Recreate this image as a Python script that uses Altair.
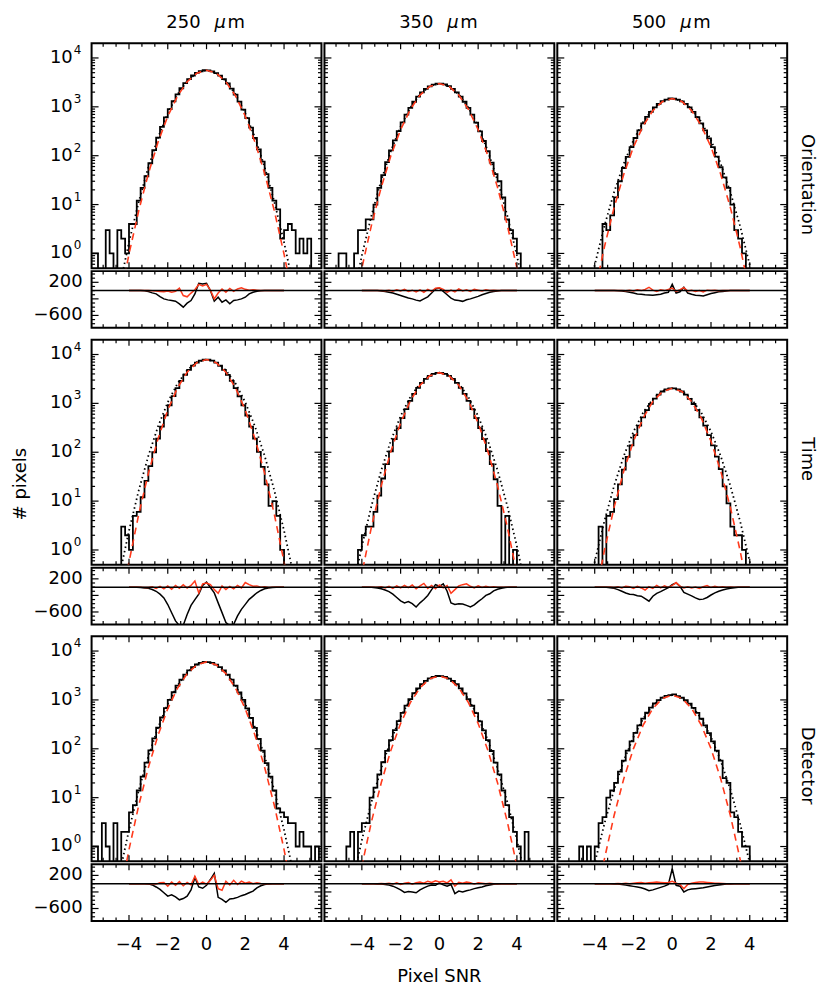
import altair as alt
import pandas as pd

FONT = "DejaVu Sans"
RED = "#ff3a1c"
W, HM, HR = 231, 226, 57

BANDS = ["250", "350", "500"]
ROWS = ["Orientation", "Time", "Detector"]
ROW_LABEL_Y = [142, 120, 130]

# bin centres of the 0.2-wide histogram bins (Pixel SNR)
HIST_X = [round(-5.9 + 0.2 * i, 1) for i in range(60)]
CURVE_X = [-5.0, -4.5, -4.0, -3.5, -3.0, -2.5, -2.0, -1.5, -1.0, -0.5, 0.0,
           0.5, 1.0, 1.5, 2.0, 2.5, 3.0, 3.5, 4.0, 4.5, 5.0]
RES_X = [round(-4.0 + 0.2 * i, 1) for i in range(41)]

X_MAJOR = [-4, -2, 0, 2, 4]
X_MINOR = [-5.333, -4.667, -3.333, -2.667, -1.333, -0.667, 0.667, 1.333, 2.667, 3.333, 4.667, 5.333]
X_LABELS = ["−4", "−2", "0", "2", "4"]
Y_MAJOR = [1, 10, 100, 1000, 10000]
Y_EXP = ["0", "1", "2", "3", "4"]
Y_MINOR = [0.6, 0.7, 0.8, 0.9, 2, 3, 4, 5, 6, 7, 8, 9, 20, 30, 40, 50, 60, 70, 80, 90,
           200, 300, 400, 500, 600, 700, 800, 900, 2000, 3000, 4000, 5000, 6000, 7000, 8000, 9000]
R_MAJOR = [200, -200, -600]
R_MINOR = [400, 300, 100, 0, -100, -300, -400, -500, -700, -800]
R_LABEL_V = [200, -600]
R_LABEL_T = ["200", "−600"]

# ---------------- histograms (counts per bin) ----------------
H_OR_250 = [1, 1, 0, 0, 3, 1, 0, 3, 2, 1, 4, 4, 12, 22, 38, 70, 130, 235, 390, 610,
            900, 1300, 1800, 2400, 3050, 3700, 4380, 4950, 5350, 5600,
            5580, 5330, 4900, 4350, 3700, 3000, 2350, 1780, 1280, 880, 590, 375, 230, 135, 76, 42, 22, 12, 8, 2,
            3, 4, 3, 1, 2, 1, 2, 0, 0, 0]
H_OR_350 = [0, 0, 0, 0, 1, 1, 0, 0, 1, 3, 3, 5, 5, 10, 22, 40, 74, 128, 205, 318,
            480, 690, 955, 1270, 1620, 1985, 2335, 2630, 2860, 2980,
            2990, 2870, 2640, 2330, 1980, 1610, 1270, 950, 690, 475, 315, 200, 124, 72, 42, 30, 14, 5, 3, 2,
            1, 0, 0, 0, 0, 0, 0, 0, 0, 0]
H_OR_500 = [0, 0, 0, 0, 0, 0, 0, 0, 0, 0, 0, 0, 4, 3, 6, 14, 30, 56, 95, 150,
            230, 330, 460, 620, 790, 975, 1150, 1300, 1410, 1480,
            1465, 1410, 1295, 1145, 970, 785, 615, 460, 330, 226, 150, 96, 58, 36, 22, 10, 3, 2, 1, 0,
            0, 0, 0, 0, 0, 0, 0, 0, 0, 0]
H_TI_250 = [0, 0, 0, 0, 0, 0, 0, 0, 3, 2, 1, 5, 6, 12, 26, 52, 100, 190, 335, 570,
            915, 1410, 2060, 2880, 3850, 4870, 5900, 6800, 7500, 7880,
            7850, 7500, 6800, 5890, 4860, 3840, 2880, 2060, 1400, 915, 565, 335, 190, 102, 50, 22, 8, 10, 5, 1,
            0, 0, 0, 0, 0, 0, 0, 0, 0, 0]
H_TI_350 = [0, 0, 0, 0, 0, 0, 0, 0, 0, 1, 2, 3, 3, 6, 13, 29, 57, 104, 185, 312,
            500, 765, 1120, 1560, 2070, 2630, 3170, 3660, 4030, 4220,
            4210, 4020, 3650, 3170, 2620, 2070, 1560, 1120, 760, 500, 310, 185, 105, 57, 28, 8, 0, 5, 0, 1,
            0, 0, 0, 0, 0, 0, 0, 0, 0, 0]
H_TI_500 = [0, 0, 0, 0, 0, 0, 0, 0, 0, 0, 0, 3, 0, 5, 6, 11, 22, 44, 80, 138,
            225, 350, 517, 728, 975, 1245, 1510, 1750, 1930, 2030,
            2025, 1925, 1750, 1510, 1240, 970, 725, 515, 350, 225, 138, 81, 45, 20, 9, 3, 2, 2, 1, 0,
            0, 0, 0, 0, 0, 0, 0, 0, 0, 0]
H_DE_250 = [1, 1, 0, 3, 1, 0, 3, 0, 2, 2, 5, 7, 14, 27, 52, 93, 163, 272, 437, 676,
            1005, 1435, 1970, 2600, 3295, 4015, 4710, 5300, 5740, 5970,
            5960, 5730, 5290, 4700, 4000, 3280, 2590, 1960, 1430, 1000, 670, 430, 268, 160, 92, 51, 27, 14, 6, 5,
            4, 3, 3, 1, 2, 1, 1, 0, 1, 0]
H_DE_350 = [0, 0, 0, 0, 0, 0, 1, 2, 0, 2, 3, 3, 10, 16, 30, 53, 91, 151, 240, 367,
            541, 765, 1042, 1370, 1725, 2095, 2445, 2750, 2965, 3085,
            3080, 2960, 2740, 2440, 2090, 1720, 1365, 1040, 760, 538, 365, 238, 150, 90, 52, 30, 14, 7, 4, 2,
            1, 0, 2, 0, 0, 0, 0, 0, 0, 0]
H_DE_500 = [0, 0, 0, 0, 0, 0, 1, 0, 1, 0, 1, 3, 4, 10, 14, 20, 34, 57, 92, 142,
            211, 301, 413, 546, 692, 844, 988, 1112, 1205, 1253,
            1300, 1200, 1108, 985, 840, 690, 545, 412, 300, 210, 142, 92, 57, 25, 20, 5, 4, 2, 1, 1,
            0, 0, 0, 0, 0, 0, 0, 0, 0, 0]

# ---------------- fitted curves (dotted black, dashed red) ----------------
D_OR_250 = [0.018, 0.196, 1.69, 11.3, 58.6, 236, 738, 1790, 3370, 4930, 5600,
            4930, 3370, 1790, 738, 236, 58.6, 11.3, 1.69, 0.196, 0.018]
R_OR_250 = [0.0075, 0.098, 0.97, 7.4, 43, 190, 643, 1656, 3258, 4887, 5600,
            4887, 3258, 1656, 643, 190, 43, 7.4, 0.97, 0.098, 0.0075]
D_OR_350 = [0.0095, 0.105, 0.906, 6.05, 31.4, 126, 395, 959, 1807, 2642, 3000,
            2642, 1807, 959, 395, 126, 31.4, 6.05, 0.906, 0.105, 0.0095]
R_OR_350 = [0.0038, 0.05, 0.502, 3.85, 22.5, 100.5, 341, 883, 1742, 2618, 3000,
            2618, 1742, 883, 341, 100.5, 22.5, 3.85, 0.502, 0.05, 0.0038]
D_OR_500 = [0.007, 0.072, 0.578, 3.64, 17.9, 69, 208, 491, 906, 1309, 1480,
            1309, 906, 491, 208, 69, 17.9, 3.64, 0.578, 0.072, 0.007]
R_OR_500 = [0.00093, 0.0141, 0.159, 1.355, 8.67, 41.7, 151, 409, 836, 1282, 1480,
            1282, 836, 409, 151, 41.7, 8.67, 1.355, 0.159, 0.0141, 0.00093]
D_TI_250 = [0.0265, 0.29, 2.48, 16.4, 84.5, 338, 1052, 2541, 4775, 6970, 7900,
            6970, 4775, 2541, 1052, 338, 84.5, 16.4, 2.48, 0.29, 0.0265]
R_TI_250 = [0.0027, 0.045, 0.568, 5.31, 36.9, 190, 728, 2065, 4355, 6810, 7900,
            6810, 4355, 2065, 728, 190, 36.9, 5.31, 0.568, 0.045, 0.0027]
D_TI_350 = [0.012, 0.136, 1.19, 8.1, 42.7, 174, 550, 1345, 2547, 3737, 4250,
            3737, 2547, 1345, 550, 174, 42.7, 8.1, 1.19, 0.136, 0.012]
R_TI_350 = [0.0016, 0.0265, 0.328, 3.02, 20.7, 105, 398, 1122, 2350, 3664, 4250,
            3664, 2350, 1122, 398, 105, 20.7, 3.02, 0.328, 0.0265, 0.0016]
D_TI_500 = [0.00575, 0.0652, 0.573, 3.9, 20.5, 83.7, 264, 646, 1225, 1797, 2040,
            1797, 1225, 646, 264, 83.7, 20.5, 3.9, 0.573, 0.0652, 0.00575]
R_TI_500 = [0.00034, 0.0066, 0.094, 0.977, 7.43, 41.3, 168, 501, 1094, 1746, 2040,
            1746, 1094, 501, 168, 41.3, 7.43, 0.977, 0.094, 0.0066, 0.00034]
D_DE_250 = [0.0253, 0.265, 2.18, 13.9, 69.7, 272, 828, 1968, 3656, 5297, 6000,
            5297, 3656, 1968, 828, 272, 69.7, 13.9, 2.18, 0.265, 0.0253]
R_DE_250 = [0.006, 0.0828, 0.867, 6.89, 41.5, 190, 658, 1730, 3451, 5224, 6000,
            5224, 3451, 1730, 658, 190, 41.5, 6.89, 0.867, 0.0828, 0.006]
D_DE_350 = [0.0174, 0.173, 1.35, 8.29, 39.9, 151, 448, 1043, 1910, 2745, 3100,
            2745, 1910, 1043, 448, 151, 39.9, 8.29, 1.35, 0.173, 0.0174]
R_DE_350 = [0.0026, 0.0372, 0.401, 3.27, 20.1, 93.8, 330, 879, 1770, 2692, 3100,
            2692, 1770, 879, 330, 93.8, 20.1, 3.27, 0.401, 0.0372, 0.0026]
D_DE_500 = [0.0053, 0.0557, 0.457, 2.92, 14.6, 57, 174, 413, 767, 1112, 1260,
            1112, 767, 413, 174, 57, 14.6, 2.92, 0.457, 0.0557, 0.0053]
R_DE_500 = [0.00018, 0.0036, 0.052, 0.554, 4.31, 24.4, 101, 304, 670, 1076, 1260,
            1076, 670, 304, 101, 24.4, 4.31, 0.554, 0.052, 0.0036, 0.00018]

# ---------------- residuals (black and red) ----------------
RK_OR_250 = [0, 0, 0, 0, -5, -24, -56, -80, -144, -200, -224, -240, -256, -320, -400, -304, -240, -80, 176, 160,
             176, 0, -256, -160, -280, -224, -320, -240, -224, -200, -160, -80, -40, -16, -5, 0, 0, 0, 0, 0, 0]
RR_OR_250 = [0, 0, 0, 0, 0, 0, -5, -8, -20, -30, -10, -40, -20, 60, -120, -150, -60, 20, 150, 110,
             150, 10, -200, -60, 40, -40, 50, -20, 40, 70, 30, 10, 20, 10, 0, 0, 0, 0, 0, 0, 0]
RK_OR_350 = [0, 0, 0, 0, 0, -10, -20, -40, -60, -90, -120, -150, -180, -200, -230, -250, -200, -150, -60, 40,
             60, -20, -100, -180, -230, -240, -260, -220, -200, -170, -140, -100, -70, -40, -20, -10, 0, 0, 0, 0, 0]
RR_OR_350 = [0, 0, 0, 0, 0, 0, -5, 10, -15, 20, -10, 30, -20, 10, -30, 20, -40, 30, -20, 60,
             70, 30, -40, 10, -30, 40, -10, 20, -20, 30, 10, -10, 20, 0, 10, 0, 0, 0, 0, 0, 0]
RK_OR_500 = [0, 0, 0, 0, 0, 0, -5, -10, -25, -40, -60, -80, -90, -100, -105, -110, -100, -90, -60, -40,
             150, -60, -30, 80, -60, -90, -110, -120, -130, -100, -70, -50, -30, -20, -10, 0, 0, 0, 0, 0, 0]
RR_OR_500 = [0, 0, 0, 0, 0, 0, 0, 5, -5, 10, -10, 20, 0, 30, 80, 10, -20, 20, 0, 30,
             60, -20, 20, 70, -10, 10, -20, 0, -30, 10, 0, 10, -5, 5, 0, 0, 0, 0, 0, 0, 0]
RK_TI_250 = [0, 0, -5, -10, -20, -30, -56, -100, -170, -260, -420, -620, -816, -930, -920, -660, -440, -300, -170, 40,
             120, -10, -140, -380, -616, -856, -930, -900, -696, -536, -416, -296, -216, -136, -80, -40, -20, -10, -5, 0, 0]
RR_TI_250 = [0, 0, 0, 0, -10, -10, 10, -30, 20, -40, 30, -50, 40, -30, 60, -20, 40, 150, -140, 80,
             100, 60, -60, -150, 30, -60, 20, -40, 40, -20, 110, 60, 20, 30, 0, 10, -10, 0, 0, 0, 0]
RK_TI_350 = [0, 0, 0, -10, -20, -40, -70, -110, -170, -250, -330, -380, -350, -400, -480, -380, -300, -200, -60, 60,
             20, 80, -100, -380, -420, -400, -410, -440, -480, -430, -350, -280, -200, -160, -90, -50, -25, -10, 0, 0, 0]
RR_TI_350 = [0, 0, 0, 0, -5, 10, -20, 20, -30, 30, -20, 40, -10, 50, -40, 30, 90, -30, 40, -40,
             50, -20, 40, -150, -60, 30, 60, 80, 20, -20, 30, -10, 20, 0, 10, 0, 0, 0, 0, 0, 0]
RK_TI_500 = [0, 0, 0, -5, -15, -30, -60, -100, -140, -170, -180, -210, -220, -280, -340, -220, -150, -110, -60, -10,
             60, 100, 20, -130, -170, -210, -260, -300, -290, -250, -190, -140, -100, -70, -45, -30, -15, -5, 0, 0, 0]
RR_TI_500 = [0, 0, 0, 0, 5, -10, 10, -20, 20, 10, -30, 20, -20, -70, 10, -30, 40, -20, 30, -10,
             40, 110, 20, -20, 10, -20, 0, -30, 10, 40, -10, 20, 0, 10, 0, 5, 0, 0, 0, 0, 0]
RK_DE_250 = [0, 0, 0, 0, 0, -5, -30, -80, -140, -220, -300, -270, -320, -390, -360, -300, -150, 150, -80, -110,
             -40, 100, 250, -330, -380, -450, -370, -360, -330, -290, -260, -220, -180, -100, -50, -20, -5, 0, 0, 0, 0]
RR_DE_250 = [0, 0, 0, 0, 0, 0, -5, -10, 20, 30, -60, 40, -40, 50, -50, 30, -30, 180, -20, 40,
             -10, 80, 200, -120, -160, 60, -30, 80, -20, 60, 10, 40, 0, 20, 5, 0, 0, 0, 0, 0, 0]
RK_DE_350 = [0, 0, 0, 0, -5, -10, -20, -35, -60, -100, -150, -210, -190, -200, -220, -150, -100, -60, -30, -40,
             20, -30, -60, -20, -240, -180, -200, -170, -150, -120, -100, -80, -50, -30, -15, -5, 0, 0, 0, 0, 0]
RR_DE_350 = [0, 0, 0, 0, 0, 5, 0, 10, -10, 20, -20, 10, 30, -10, 20, 40, 10, 60, 30, 70,
             40, 60, 20, 90, -60, 30, 10, 40, 20, -10, 20, 10, 0, 10, 0, 0, 0, 0, 0, 0, 0]
RK_DE_500 = [0, 0, 0, 0, 0, -5, -10, -20, -35, -50, -65, -80, -100, -130, -170, -150, -120, -90, -60, -20,
             360, -40, -60, -200, -150, -130, -120, -110, -100, -80, -60, -45, -30, -20, -10, -5, 0, 0, 0, 0, 0]
RR_DE_500 = [0, 0, 0, 0, 0, 0, 5, 0, 10, 0, 10, 20, 30, 10, 20, 30, 40, 30, 20, 30,
             60, 10, -20, -120, -20, 10, 30, 40, 40, 30, 20, 10, 10, 5, 0, 0, 0, 0, 0, 0, 0]

HIST = [[H_OR_250, H_OR_350, H_OR_500], [H_TI_250, H_TI_350, H_TI_500], [H_DE_250, H_DE_350, H_DE_500]]
DOTC = [[D_OR_250, D_OR_350, D_OR_500], [D_TI_250, D_TI_350, D_TI_500], [D_DE_250, D_DE_350, D_DE_500]]
REDC = [[R_OR_250, R_OR_350, R_OR_500], [R_TI_250, R_TI_350, R_TI_500], [R_DE_250, R_DE_350, R_DE_500]]
RESK = [[RK_OR_250, RK_OR_350, RK_OR_500], [RK_TI_250, RK_TI_350, RK_TI_500], [RK_DE_250, RK_DE_350, RK_DE_500]]
RESR = [[RR_OR_250, RR_OR_350, RR_OR_500], [RR_TI_250, RR_TI_350, RR_TI_500], [RR_DE_250, RR_DE_350, RR_DE_500]]

xs = alt.Scale(domain=[-5.93, 5.93], nice=False, zero=False)
ys = alt.Scale(type="log", domain=[0.5, 20000], nice=False)
rs = alt.Scale(domain=[-900, 470], nice=False, zero=False)


def xq(field):
    return alt.X(f"{field}:Q", scale=xs, axis=None)


def xticks(h):
    out = []
    for vals, L in ((X_MAJOR, 6), (X_MINOR, 3.5)):
        base = alt.Chart(pd.DataFrame({"v": vals})).mark_rule(color="black", strokeWidth=1.2).encode(x=xq("v"))
        out.append(base.encode(y=alt.value(0), y2=alt.value(L)))
        out.append(base.encode(y=alt.value(h), y2=alt.value(h - L)))
    return out


def yticks(scale, major, minor):
    out = []
    for vals, L in ((major, 7), (minor, 3.5)):
        base = alt.Chart(pd.DataFrame({"v": vals})).mark_rule(color="black", strokeWidth=1.2).encode(
            y=alt.Y("v:Q", scale=scale, axis=None))
        out.append(base.encode(x=alt.value(0), x2=alt.value(L)))
        out.append(base.encode(x=alt.value(W), x2=alt.value(W - L)))
    return out


DUMMY = pd.DataFrame({"a": [0]})


def text(label, x, y, size=18, angle=0, align="center", style="normal"):
    return alt.Chart(DUMMY).mark_text(text=label, align=align, baseline="middle", fontSize=size, font=FONT,
                                      angle=angle, fontStyle=style, color="black").encode(
        x=alt.value(x), y=alt.value(y))


def main_panel(ri, ci):
    hdf = pd.DataFrame([(x, c if c > 0 else 0.05) for x, c in zip(HIST_X, HIST[ri][ci])], columns=["x", "n"])
    cdf = pd.DataFrame(list(zip(CURVE_X, DOTC[ri][ci], REDC[ri][ci])), columns=["x", "dot", "red"])
    hist = alt.Chart(hdf).mark_line(interpolate="step", color="black", strokeWidth=1.8, clip=True).encode(
        x=xq("x"), y=alt.Y("n:Q", scale=ys, axis=None))
    dot = alt.Chart(cdf).mark_line(color="black", strokeWidth=1.8, strokeDash=[1.5, 3], clip=True).encode(
        x=xq("x"), y=alt.Y("dot:Q", scale=ys, axis=None))
    red = alt.Chart(cdf).mark_line(color=RED, strokeWidth=1.6, strokeDash=[7, 5], clip=True).encode(
        x=xq("x"), y=alt.Y("red:Q", scale=ys, axis=None))
    layers = [hist, dot, red] + xticks(HM) + yticks(ys, Y_MAJOR, Y_MINOR)
    if ci == 0:
        ylab = pd.DataFrame({"v": Y_MAJOR, "e": Y_EXP, "b": ["10"] * len(Y_MAJOR)})
        layers.append(alt.Chart(ylab).mark_text(align="right", baseline="middle", fontSize=18, font=FONT).encode(
            x=alt.value(-19), y=alt.Y("v:Q", scale=ys, axis=None), text="b:N"))
        layers.append(alt.Chart(ylab).mark_text(align="left", baseline="middle", fontSize=12, font=FONT,
                                                dy=-8).encode(
            x=alt.value(-18), y=alt.Y("v:Q", scale=ys, axis=None), text="e:N"))
    if ri == 0:
        layers.append(text(BANDS[ci], W / 2 - 6, -20, align="right"))
        layers.append(text("μ", W / 2 + 8, -20, align="left", style="italic"))
        layers.append(text("m", W / 2 + 21, -20, align="left"))
    if ci == 2:
        layers.append(text(ROWS[ri], W + 20, ROW_LABEL_Y[ri], angle=90))
    if ri == 1 and ci == 0:
        layers.append(text("# pixels", -71, 145, angle=270))
    return alt.layer(*layers).properties(width=W, height=HM)


def res_panel(ri, ci):
    rdf = pd.DataFrame(list(zip(RES_X, RESK[ri][ci], RESR[ri][ci])), columns=["x", "k", "r"])
    blk = alt.Chart(rdf).mark_line(color="black", strokeWidth=1.5, clip=True).encode(
        x=xq("x"), y=alt.Y("k:Q", scale=rs, axis=None))
    redl = alt.Chart(rdf).mark_line(color=RED, strokeWidth=1.5, clip=True).encode(
        x=xq("x"), y=alt.Y("r:Q", scale=rs, axis=None))
    zero = alt.Chart(pd.DataFrame({"v": [0]})).mark_rule(color="black", strokeWidth=1.5).encode(
        y=alt.Y("v:Q", scale=rs, axis=None), x=alt.value(0), x2=alt.value(W))
    layers = [blk, redl, zero] + xticks(HR) + yticks(rs, R_MAJOR, R_MINOR)
    if ci == 0:
        rl = pd.DataFrame({"v": R_LABEL_V, "t": R_LABEL_T})
        layers.append(alt.Chart(rl).mark_text(align="right", baseline="middle", fontSize=18, font=FONT).encode(
            x=alt.value(-9), y=alt.Y("v:Q", scale=rs, axis=None), text="t:N"))
    if ri == 2:
        xl = pd.DataFrame({"v": X_MAJOR, "t": X_LABELS})
        layers.append(alt.Chart(xl).mark_text(baseline="middle", fontSize=18, font=FONT).encode(
            x=xq("v"), y=alt.value(HR + 24), text="t:N"))
        if ci == 1:
            layers.append(text("Pixel SNR", W / 2, HR + 56))
    return alt.layer(*layers).properties(width=W, height=HR)


def spacer():
    return alt.Chart(DUMMY).mark_point(opacity=0).encode(
        x=alt.value(0), y=alt.value(0)).properties(
        width=W, height=6, view=alt.ViewBackground(stroke="transparent"))


cells = []
for ri in range(3):
    cells += [main_panel(ri, ci) for ci in range(3)]
    cells += [res_panel(ri, ci) for ci in range(3)]
    if ri < 2:
        cells += [spacer() for _ in range(3)]

chart = alt.concat(*cells, columns=3, spacing=3, bounds="flush").properties(
    padding={"left": 3, "top": 3, "right": 5, "bottom": 5}
).configure_view(stroke="black", strokeWidth=2)

chart.save("out.html", embed_options={"renderer": "svg", "actions": False})
